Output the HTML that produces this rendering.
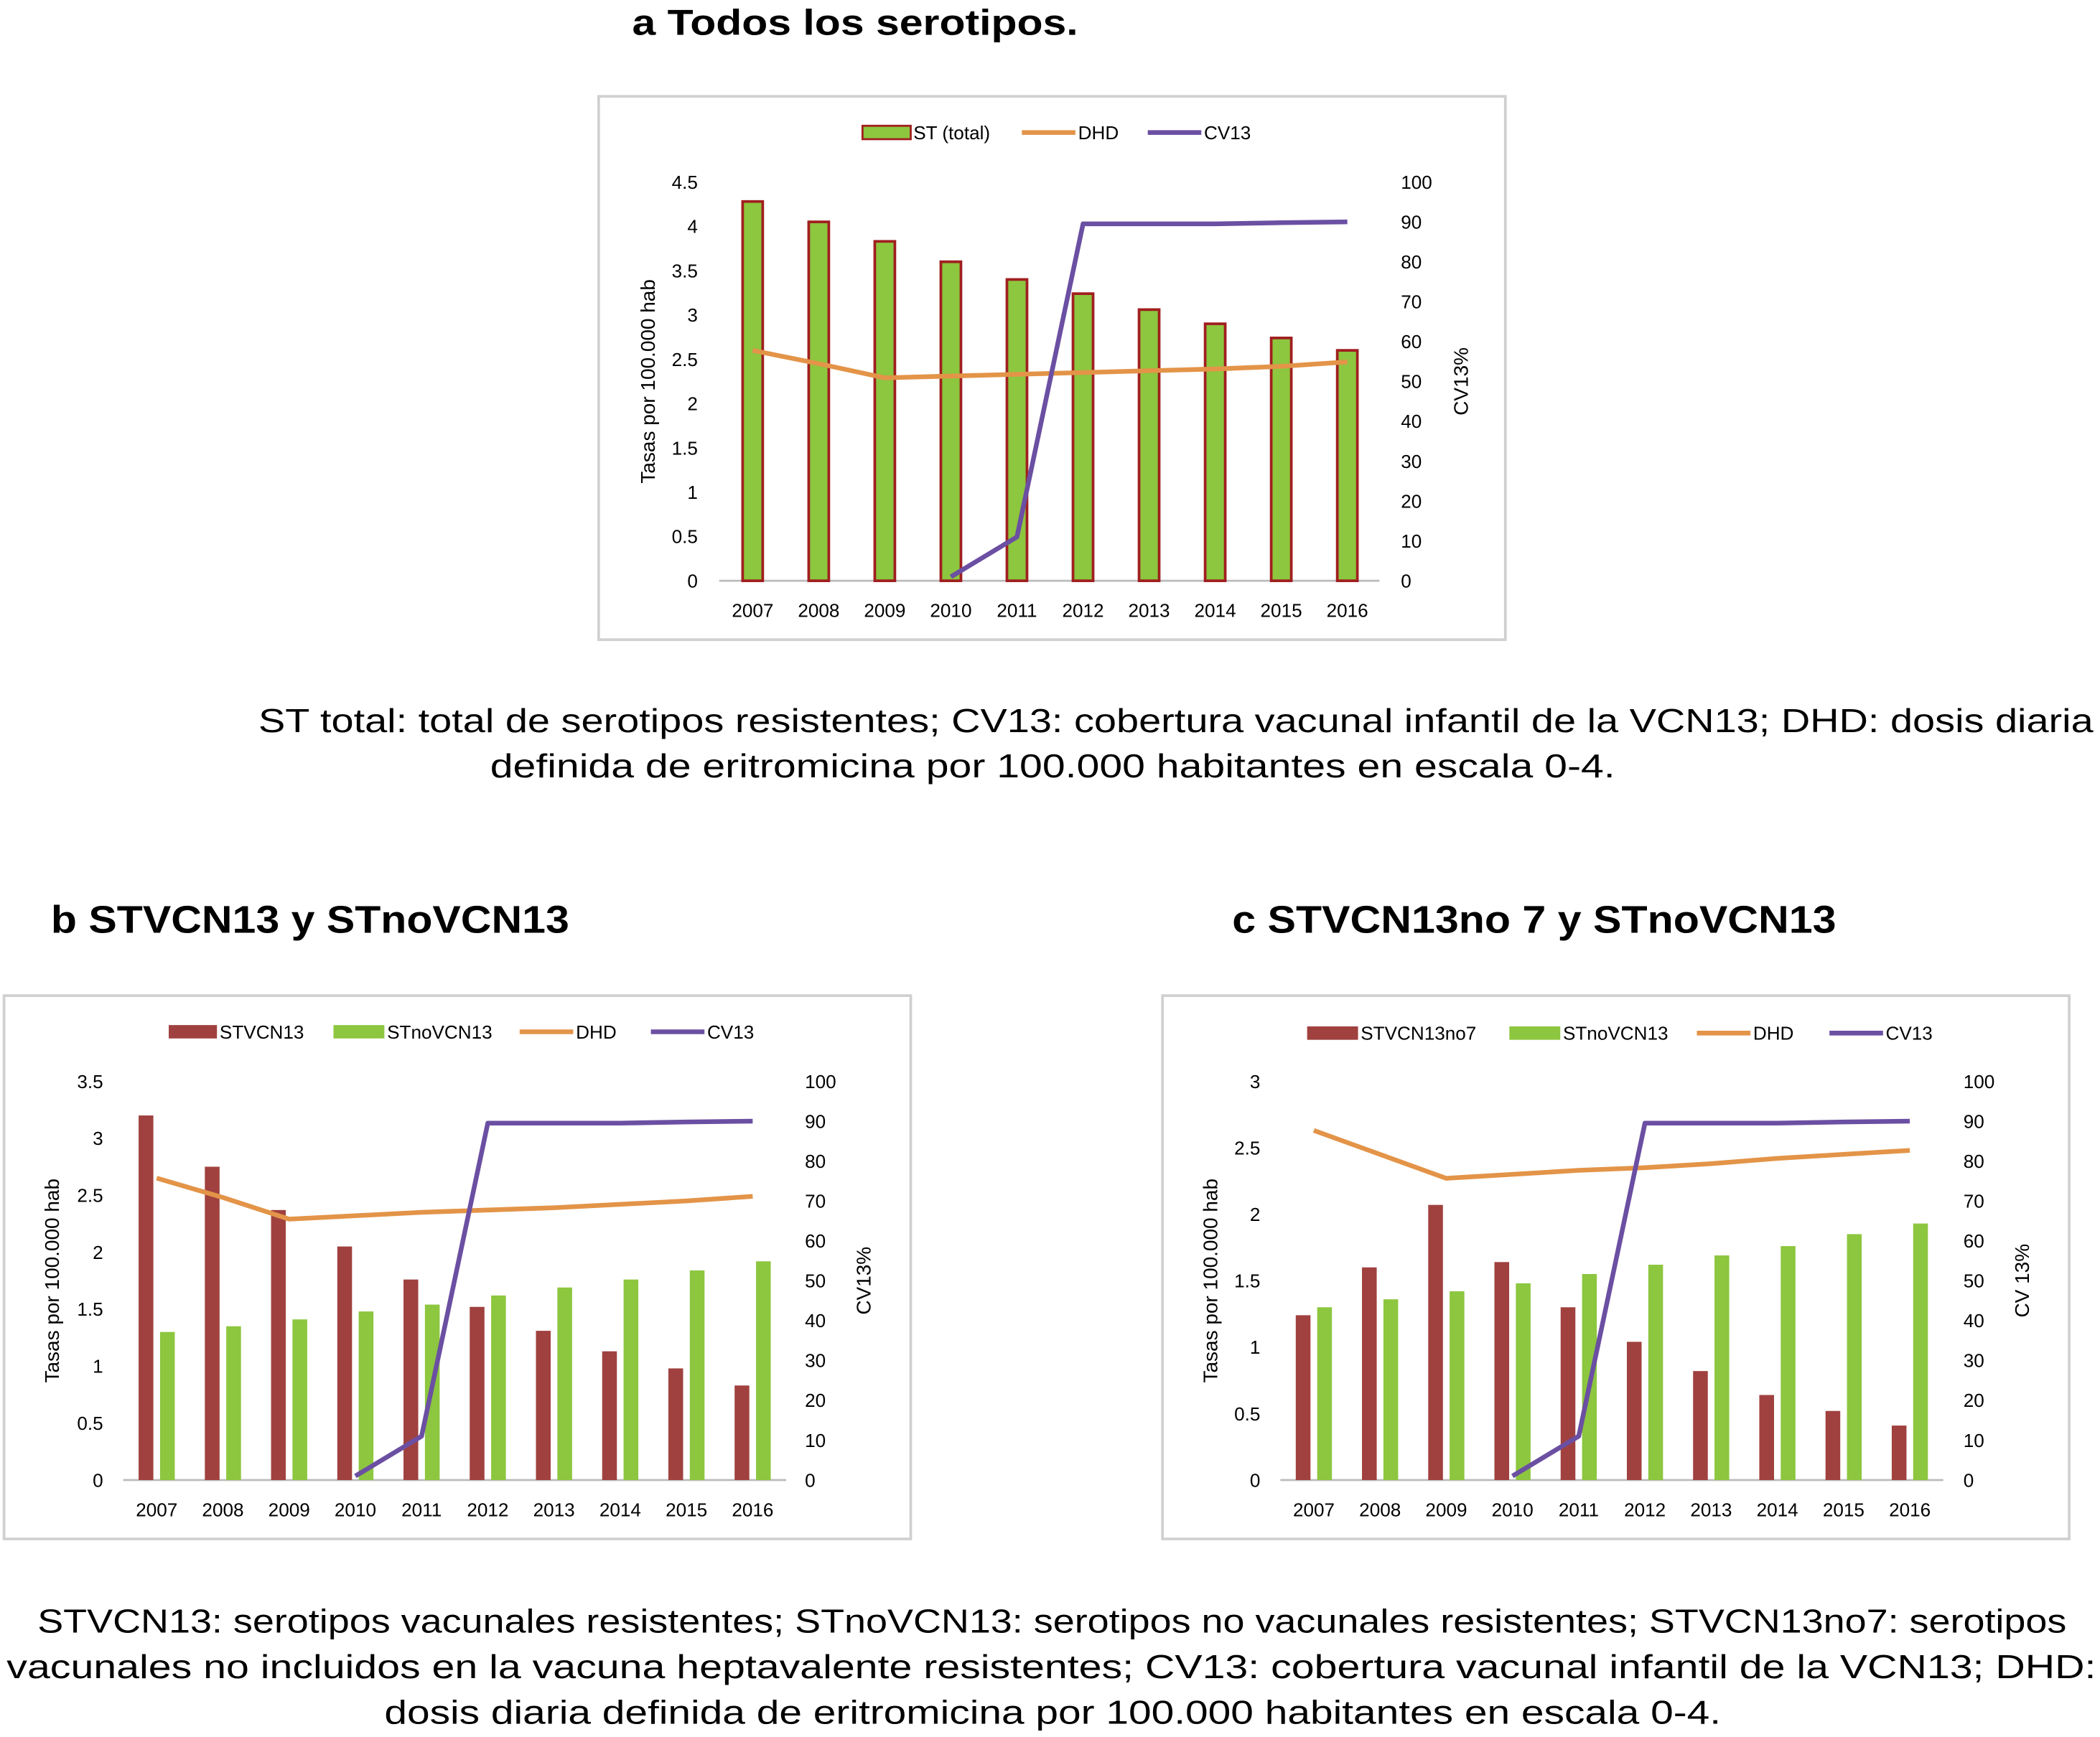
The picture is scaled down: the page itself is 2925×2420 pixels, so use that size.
<!DOCTYPE html>
<html><head><meta charset="utf-8"><style>
html,body{margin:0;padding:0;background:#fff;width:2925px;height:2420px;overflow:hidden}
svg{display:block;font-family:"Liberation Sans",sans-serif}
</style></head><body>
<svg id="s" width="2925" height="2420" viewBox="0 0 1568 1298" preserveAspectRatio="none">
<text x="472" y="26" font-size="27" font-weight="bold" textLength="333" lengthAdjust="spacingAndGlyphs">a  Todos los serotipos.</text>
<text x="193" y="547" font-size="25" textLength="1370" lengthAdjust="spacingAndGlyphs">ST total: total de serotipos resistentes; CV13: cobertura vacunal infantil de la VCN13; DHD: dosis diaria</text>
<text x="366" y="581" font-size="25" textLength="840" lengthAdjust="spacingAndGlyphs">definida de eritromicina por 100.000 habitantes en escala 0-4.</text>
<text x="38" y="697" font-size="29" font-weight="bold" textLength="387" lengthAdjust="spacingAndGlyphs">b  STVCN13 y STnoVCN13</text>
<text x="920" y="697" font-size="29" font-weight="bold" textLength="451" lengthAdjust="spacingAndGlyphs">c  STVCN13no 7 y STnoVCN13</text>
<text x="28" y="1220" font-size="25" textLength="1515" lengthAdjust="spacingAndGlyphs">STVCN13: serotipos vacunales resistentes; STnoVCN13: serotipos no vacunales resistentes; STVCN13no7: serotipos</text>
<text x="5" y="1254" font-size="25" textLength="1560" lengthAdjust="spacingAndGlyphs">vacunales no incluidos en la vacuna heptavalente resistentes; CV13: cobertura vacunal infantil de la VCN13; DHD:</text>
<text x="287" y="1288" font-size="25" textLength="998" lengthAdjust="spacingAndGlyphs">dosis diaria definida de eritromicina por 100.000 habitantes en escala 0-4.</text>
</svg>
<script>
const years=["2007","2008","2009","2010","2011","2012","2013","2014","2015","2016"];
const stTotal=[4.28,4.05,3.83,3.6,3.4,3.24,3.06,2.9,2.74,2.6];
const dhdA=[2.6,2.45,2.29,2.31,2.33,2.35,2.37,2.39,2.42,2.47];
const cv13=[null,null,null,1,11,89.5,89.5,89.5,89.8,90];
const stvcn13=[3.2,2.75,2.37,2.05,1.76,1.52,1.31,1.13,0.98,0.83];
const stnoB=[1.3,1.35,1.41,1.48,1.54,1.62,1.69,1.76,1.84,1.92];
const dhdB=[2.65,2.48,2.29,2.32,2.35,2.37,2.39,2.42,2.45,2.49];
const stvcn13no7=[1.24,1.6,2.07,1.64,1.3,1.04,0.82,0.64,0.52,0.41];
const stnoC=[1.3,1.36,1.42,1.48,1.55,1.62,1.69,1.76,1.85,1.93];
const dhdC=[2.63,2.45,2.27,2.3,2.33,2.35,2.38,2.42,2.45,2.48];
const ticksA=["0","0.5","1","1.5","2","2.5","3","3.5","4","4.5"];
const ticksB=["0","0.5","1","1.5","2","2.5","3","3.5"];
const ticksC=["0","0.5","1","1.5","2","2.5","3"];
const ticksR=["0","10","20","30","40","50","60","70","80","90","100"];
const S=document.getElementById('s');const NS="http://www.w3.org/2000/svg";
function mk(t,a,txt){const e=document.createElementNS(NS,t);for(const k in a)e.setAttribute(k,a[k]);if(txt!=null)e.textContent=txt;S.appendChild(e);return e;}
const GREEN="#8dc63f",RED="#a0413f",ORANGE="#e39448",PURPLE="#6b4fa2";
function chart(o){
  let e=mk('rect',{x:o.fx,y:o.fy,width:677,height:406,fill:"none",stroke:"#d0d0d0","stroke-width":2});
  
  
  const yB=o.y0,yT=o.yTop,lmax=o.lmax;
  const yL=v=>yB-(v/lmax)*(yB-yT);const yR=v=>yB-(v/100)*(yB-yT);
  const xC=i=>o.x0+i*(o.x1-o.x0)/9;
  e=mk('line',{x1:o.ax0,x2:o.ax1,y1:yB,y2:yB,stroke:"#bbb","stroke-width":1.5});
  
  
  o.ticks.forEach(t=>{const v=parseFloat(t);e=mk('text',{x:o.ltx,y:yL(v)+5,"font-size":14,"text-anchor":"end"},t);
    
    });
  ticksR.forEach(t=>{e=mk('text',{x:o.rtx,y:yR(+t)+5,"font-size":14},t);
    
    });
  years.forEach((y,i)=>{e=mk('text',{x:xC(i),y:yB+27,"font-size":14,"text-anchor":"middle"},y);
    
    });
  e=mk('text',{transform:`translate(${o.ylx},${(yB+yT)/2}) rotate(-90)`,"font-size":15,"text-anchor":"middle"},"Tasas por 100.000 hab");
  
  
  e=mk('text',{transform:`translate(${o.yrx},${(yB+yT)/2}) rotate(-90)`,"font-size":15,"text-anchor":"middle"},o.rt);
  
  
  o.bars.forEach(b=>{b.data.forEach((v,i)=>{const r=mk('rect',{x:xC(i)+b.off-b.w/2,y:yL(v),width:b.w,height:yB-yL(v),fill:b.fill,stroke:b.stroke||"none","stroke-width":b.stroke?2:0});
    
    });});
  const pd=o.dhd.map((v,i)=>(i?'L':'M')+xC(i)+','+yL(v)).join('');
  e=mk('path',{d:pd,fill:"none",stroke:ORANGE,"stroke-width":3.5,"stroke-linejoin":"round"});
  
  
  let pc='';cv13.forEach((v,i)=>{if(v!=null)pc+=(pc?'L':'M')+xC(i)+','+yR(v);});
  e=mk('path',{d:pc,fill:"none",stroke:PURPLE,"stroke-width":3.5,"stroke-linejoin":"round"});
  
  
  o.legend.forEach(l=>{
    if(l.type=='bar'){e=mk('rect',{x:l.x,y:o.legY-5,width:l.w,height:10,fill:l.fill,stroke:l.stroke||"none","stroke-width":l.stroke?1.5:0});}
    else{e=mk('line',{x1:l.x,x2:l.x+l.w,y1:o.legY,y2:o.legY,stroke:l.fill,"stroke-width":3.5});}
    
    
    e=mk('text',{x:l.x+l.w+2,y:o.legY+5,"font-size":14},l.label);
    
    
  });
}
chart({id:'a',fx:447,fy:72,y0:434,yTop:136,lmax:4.5,x0:562,x1:1006,ax0:537,ax1:1030,ticks:ticksA,ltx:521,rtx:1046,ylx:489,yrx:1096,rt:"CV13%",dhd:dhdA,
 bars:[{name:'st-total',data:stTotal,off:0,w:15,fill:GREEN,stroke:"#a01f1f"}],legY:99,
 legend:[{type:'bar',x:644,w:36,fill:GREEN,stroke:"#a01f1f",label:"ST (total)"},{type:'line',x:763,w:40,fill:ORANGE,label:"DHD"},{type:'line',x:857,w:40,fill:PURPLE,label:"CV13"}]});
chart({id:'b',fx:3,fy:744,y0:1106,yTop:808,lmax:3.5,x0:117,x1:562,ax0:92,ax1:587,ticks:ticksB,ltx:77,rtx:601,ylx:44,yrx:650,rt:"CV13%",dhd:dhdB,
 bars:[{name:'stvcn13',data:stvcn13,off:-8,w:11,fill:RED},{name:'stnovcn13',data:stnoB,off:8,w:11,fill:GREEN}],legY:771,
 legend:[{type:'bar',x:126,w:36,fill:RED,label:"STVCN13"},{type:'bar',x:249,w:38,fill:GREEN,label:"STnoVCN13"},{type:'line',x:388,w:40,fill:ORANGE,label:"DHD"},{type:'line',x:486,w:40,fill:PURPLE,label:"CV13"}]});
chart({id:'c',fx:868,fy:744,y0:1106,yTop:808,lmax:3,x0:981,x1:1426,ax0:956,ax1:1451,ticks:ticksC,ltx:941,rtx:1466,ylx:909,yrx:1515,rt:"CV 13%",dhd:dhdC,
 bars:[{name:'stvcn13no7',data:stvcn13no7,off:-8,w:11,fill:RED},{name:'stnovcn13',data:stnoC,off:8,w:11,fill:GREEN}],legY:772,
 legend:[{type:'bar',x:976,w:38,fill:RED,label:"STVCN13no7"},{type:'bar',x:1127,w:38,fill:GREEN,label:"STnoVCN13"},{type:'line',x:1267,w:40,fill:ORANGE,label:"DHD"},{type:'line',x:1366,w:40,fill:PURPLE,label:"CV13"}]});
</script>
</body></html>
